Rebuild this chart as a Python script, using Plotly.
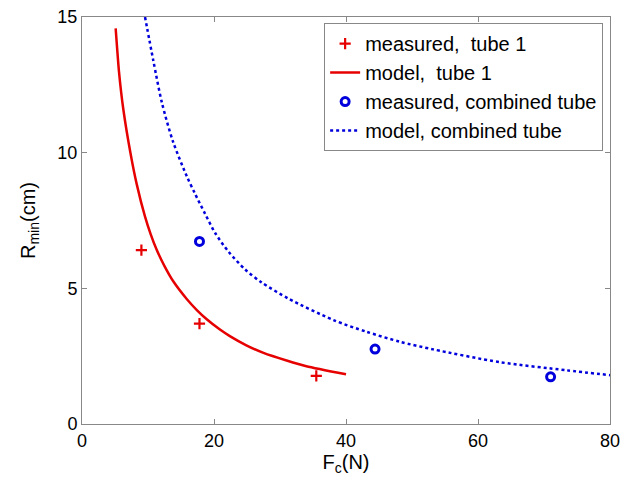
import plotly.graph_objects as go

# measured data
meas1_x = [9.0, 17.8, 35.5]
meas1_y = [6.41, 3.70, 1.77]
measc_x = [17.8, 44.4, 71.0]
measc_y = [6.73, 2.76, 1.74]

# model curves
model1_x = [5.1, 5.6, 6.26, 7.37, 8.28, 9.55, 10.4, 11.3, 12.5, 13.8, 15.9, 17.4, 18.9, 20.9, 22.4, 24.9, 27.5, 31.0, 34.0, 40.0]
model1_y = [14.58, 13.0, 11.6, 9.95, 8.85, 7.64, 7.0, 6.43, 5.82, 5.27, 4.6, 4.2, 3.86, 3.48, 3.24, 2.9, 2.62, 2.34, 2.13, 1.83]
modelc_x = [9.55, 10.8, 12.1, 13.8, 15.9, 17.1, 18.6, 20.2, 22.2, 24.7, 27.2, 31.3, 38.1, 43.1, 48.2, 53.2, 63.3, 73.4, 80.0]
modelc_y = [15.0, 13.4, 11.85, 10.4, 9.12, 8.5, 7.77, 7.03, 6.35, 5.7, 5.22, 4.62, 3.83, 3.40, 3.03, 2.75, 2.28, 1.98, 1.80]

xticks = [0, 20, 40, 60, 80]
yticks = [0, 5, 10, 15]

RED = "#e60000"
BLUE = "#0000dd"
FONT = "Liberation Sans, Arial"

fig = go.Figure()
fig.add_trace(go.Scatter(x=meas1_x, y=meas1_y, mode="markers", name="measured,  tube 1",
                         marker=dict(symbol="cross-thin", size=8, color=RED,
                                     line=dict(color=RED, width=2.2))))
fig.add_trace(go.Scatter(x=model1_x, y=model1_y, mode="lines", name="model,  tube 1",
                         line=dict(color=RED, width=2.5, shape="spline", smoothing=0.6)))
fig.add_trace(go.Scatter(x=measc_x, y=measc_y, mode="markers", name="measured, combined tube",
                         marker=dict(symbol="circle-open", size=8, color=BLUE,
                                     line=dict(color=BLUE, width=3))))
fig.add_trace(go.Scatter(x=modelc_x, y=modelc_y, mode="lines", name="model, combined tube",
                         line=dict(color=BLUE, width=2.5, dash="dot", shape="spline", smoothing=0.8)))

axis_common = dict(showgrid=False, zeroline=False, showline=True, linecolor="#888888",
                   linewidth=1, mirror="ticks", ticks="inside", ticklen=5, tickcolor="#888888",
                   automargin=False, ticklabeloverflow="allow",
                   tickfont=dict(family=FONT, size=18, color="black"))

fig.update_xaxes(range=[0, 80], tickvals=xticks, ticktext=[str(v) for v in xticks],
                 title=dict(text="F<sub>c</sub>(N)", font=dict(family=FONT, size=20, color="black"), standoff=2),
                 **axis_common)
fig.update_yaxes(range=[0, 15], tickvals=yticks, ticktext=[str(v) for v in yticks],
                 title=dict(text="R<sub>min</sub>(cm)", font=dict(family=FONT, size=20, color="black"), standoff=16),
                 **axis_common)

# page body has an 8px margin, so the figure is sized and offset to compensate
fig.update_layout(
    width=625, height=477,
    margin=dict(l=74, r=23, t=9, b=61),
    plot_bgcolor="white", paper_bgcolor="white",
    showlegend=True,
    legend=dict(x=0.987, y=0.985, xanchor="right", yanchor="top",
                bgcolor="white", bordercolor="#888888", borderwidth=1,
                font=dict(family=FONT, size=20, color="black"),
                tracegroupgap=0, itemwidth=30),
)

fig.write_html("out.html")
